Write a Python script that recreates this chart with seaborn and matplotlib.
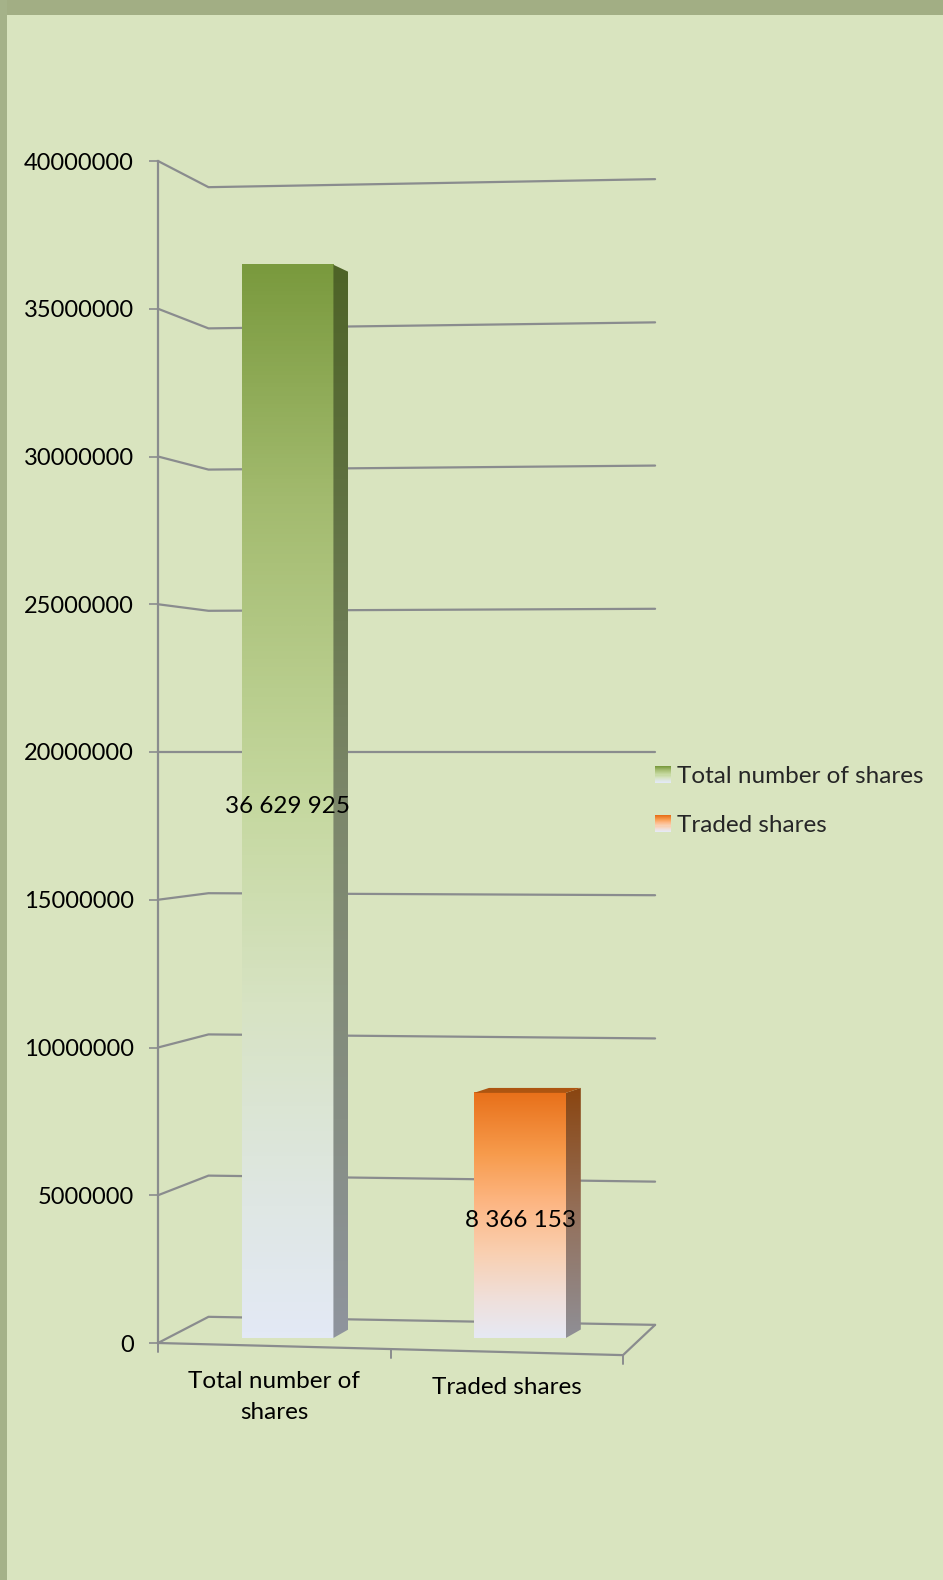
import numpy as np
import pandas as pd
import matplotlib
matplotlib.use("Agg")
import matplotlib.pyplot as plt
import matplotlib.transforms as mtransforms
import seaborn as sns
from matplotlib.colors import LinearSegmentedColormap
from matplotlib.patches import Polygon, Rectangle
from matplotlib.lines import Line2D
from matplotlib.legend_handler import HandlerBase

# data
categories = ["Total number of shares", "Traded shares"]
cat_labels = ["Total number of\nshares", "Traded shares"]
shares = [36629925, 8366153]
yticks = [0, 5000000, 10000000, 15000000, 20000000, 25000000, 30000000, 35000000, 40000000]

# colours
bg = "#d9e4bf"
frame_col = "#a2ae84"
grid_col = "#8a8c8e"
# gradient stops, bottom -> top
face_cols = [[(0, "#e3e9f5"), (0.12, "#dfe7e4"), (0.31, "#d7e3c3"), (0.5, "#c5d89f"),
              (0.78, "#a3bb6f"), (1, "#7a9a3e")],
             [(0, "#e6e9f4"), (0.15, "#efe0dc"), (0.35, "#f9cfb0"), (0.55, "#fdb683"),
              (0.75, "#f79b4c"), (1, "#e8701a")]]
side_cols = [[(0, "#8f949d"), (0.2, "#868e84"), (0.5, "#7c876a"), (0.8, "#5e703f"), (1, "#4e6327")],
             [(0, "#8f8f96"), (0.5, "#94705a"), (1, "#8a4510")]]
top_cols = ["#6d8a36", "#ad5511"]

# fake 3d: everything leans toward the eye level
EYE = 20000000
def persp(v, f):
    return v + f * (EYE - v)

F_BAR, F_SIDE, F_WALL, F_RIGHT, F_FRONT = 0.0085, 0.0228, 0.0443, 0.0307, -0.0205
WALL_X, RIGHT_X = 0.1086, 1.069   # axes fraction
SHIFT, DEPTH = 0.057, 0.064       # data units

sns.set_theme(style="white")
plt.rcParams["font.family"] = ["Lato", "DejaVu Sans"]
FS = 17.5
FS_TICK = 17.0

fig = plt.figure(figsize=(9.43, 15.8), dpi=100, facecolor=bg)
ax = fig.add_axes([158/943, 237/1580, 465/943, 1182/1580])
ax.set_facecolor("none")

df = pd.DataFrame({"category": categories, "shares": shares})
sns.barplot(data=df, x="category", y="shares", hue="category",
            palette=[c[-1][1] for c in face_cols], width=0.395, ax=ax,
            legend=False, zorder=3)

blend = mtransforms.blended_transform_factory(ax.transAxes, ax.transData)

# gridlines with a kink to the back wall
for v in yticks:
    ax.add_line(Line2D([0, WALL_X, RIGHT_X],
                       [v, persp(v, F_WALL), persp(v, F_RIGHT)],
                       transform=blend, color=grid_col, lw=1.6,
                       clip_on=False, zorder=1))

# floor front + right edge
y_front_r = persp(0, F_FRONT)
ax.add_line(Line2D([0, 1, RIGHT_X], [0, y_front_r, persp(0, F_RIGHT)],
                   transform=blend, color=grid_col, lw=1.6, clip_on=False, zorder=1))
tick_len = 310000
for fx in [0, 0.5, 1]:
    yl = fx * y_front_r
    ax.add_line(Line2D([fx, fx], [yl, yl - tick_len], transform=blend,
                       color=grid_col, lw=1.4, clip_on=False, zorder=1))

grad = np.linspace(0, 1, 256).reshape(-1, 1)
patches = [p for p in ax.patches]
for i, p in enumerate(patches):
    v = shares[i]
    x0 = p.get_x() + SHIFT
    w = p.get_width()
    x1 = x0 + w
    y0, y1 = persp(0, F_BAR), persp(v, F_BAR)
    yb0, yb1 = persp(0, F_SIDE), persp(v, F_SIDE)
    p.set_x(x0)
    p.set_y(y0)
    p.set_height(y1 - y0)
    p.set_facecolor("none")
    p.set_edgecolor("none")

    cm = LinearSegmentedColormap.from_list(f"f{i}", face_cols[i])
    ax.imshow(grad, extent=[x0, x1, y0, y1], origin="lower", aspect="auto",
              cmap=cm, clip_path=p, zorder=3, interpolation="bilinear")

    side = Polygon([(x1, y0), (x1 + DEPTH, yb0), (x1 + DEPTH, yb1), (x1, y1)],
                   closed=True, facecolor="none", edgecolor="none", zorder=3)
    ax.add_patch(side)
    cs = LinearSegmentedColormap.from_list(f"s{i}", side_cols[i])
    ax.imshow(grad, extent=[x1, x1 + DEPTH, min(y0, yb0), max(y1, yb1)],
              origin="lower", aspect="auto", cmap=cs, clip_path=side,
              zorder=3, interpolation="bilinear")

    if yb1 > y1:
        ax.add_patch(Polygon([(x0, y1), (x1, y1), (x1 + DEPTH, yb1), (x0 + DEPTH, yb1)],
                             closed=True, facecolor=top_cols[i], edgecolor="none", zorder=3))

    ax.text((x0 + x1) / 2, (y0 + y1) / 2 - 180000, f"{v:,}".replace(",", " "),
            ha="center", va="center", fontsize=FS, color="black", zorder=5)

# category labels under the slanted floor
for i, lab in enumerate(cat_labels):
    fx = (i + 0.5) / 2
    ax.text(i, fx * y_front_r - 850000, lab, ha="center", va="top",
            fontsize=FS, linespacing=1.6, color="black")

ax.set_xlim(-0.5, 1.5)
ax.set_ylim(0, 40000000)
ax.set_xticks([])
ax.set_xlabel("")
ax.set_ylabel("")
ax.set_yticks(yticks)
ax.set_yticklabels([str(t) for t in yticks], fontsize=FS_TICK, color="black")
ax.tick_params(axis="y", direction="out", length=6.5, width=1.2,
               color=grid_col, pad=11, left=True)
for s in ["top", "right", "bottom"]:
    ax.spines[s].set_visible(False)
ax.spines["left"].set_color(grid_col)
ax.spines["left"].set_linewidth(1.6)


class GradientHandler(HandlerBase):
    def __init__(self, colors):
        super().__init__()
        self.colors = colors

    def create_artists(self, legend, orig_handle, xdescent, ydescent,
                       width, height, fontsize, trans):
        cm = LinearSegmentedColormap.from_list("h", self.colors)
        n = 16
        arts = []
        for k in range(n):
            arts.append(Rectangle((-xdescent, -ydescent + height * k / n),
                                  width, height / n + 0.3,
                                  facecolor=cm(k / (n - 1)), edgecolor="none",
                                  transform=trans))
        return arts


handles = [Rectangle((0, 0), 1, 1) for _ in categories]
fig.legend(handles, categories,
           handler_map={h: GradientHandler(face_cols[i]) for i, h in enumerate(handles)},
           loc="center left", bbox_to_anchor=(655/943, 1 - 801/1580),
           frameon=False, fontsize=FS, handlelength=0.66, handleheight=0.66,
           handletextpad=0.26, labelspacing=1.15, borderpad=0, borderaxespad=0)

# outer frame bands
fig.patches.append(Rectangle((0, 1 - 15/1580), 1, 15/1580, transform=fig.transFigure,
                             facecolor=frame_col, edgecolor="none"))
fig.patches.append(Rectangle((0, 0), 7.5/943, 1, transform=fig.transFigure,
                             facecolor="#a5b289", edgecolor="none"))

fig.savefig("out.png", dpi=100, facecolor=bg)
